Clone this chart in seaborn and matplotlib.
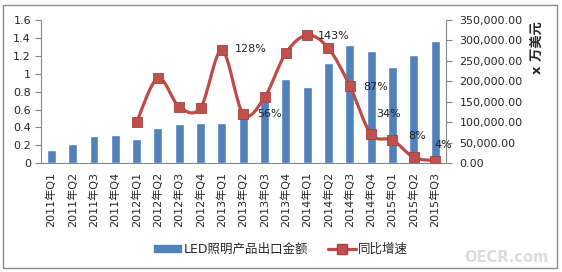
import numpy as np
import seaborn as sns
import matplotlib.pyplot as plt
from matplotlib.path import Path
from matplotlib.patches import PathPatch, Rectangle
from matplotlib.lines import Line2D
from matplotlib.ticker import FuncFormatter, FixedLocator

quarters = ["2011年Q1", "2011年Q2", "2011年Q3", "2011年Q4",
            "2012年Q1", "2012年Q2", "2012年Q3", "2012年Q4",
            "2013年Q1", "2013年Q2", "2013年Q3", "2013年Q4",
            "2014年Q1", "2014年Q2", "2014年Q3", "2014年Q4",
            "2015年Q1", "2015年Q2", "2015年Q3"]
# export value, 万美元 (right axis)
export_value = [32500, 47000, 66700, 70000, 60000, 87000, 97000, 99000,
                99000, 112000, 152000, 205000, 185600, 245700, 289000,
                274300, 235200, 264500, 298700]
# year-on-year growth (left axis), none for 2011
growth = [np.nan, np.nan, np.nan, np.nan, 0.46, 0.95, 0.63, 0.62,
          1.26, 0.55, 0.735, 1.23, 1.43, 1.285, 0.865, 0.325,
          0.26, 0.067, 0.03]
label_quarters = ["2013年Q1", "2013年Q2", "2014年Q1", "2014年Q3",
                  "2014年Q4", "2015年Q2", "2015年Q3"]
label_texts = ["128%", "56%", "143%", "87%", "34%", "8%", "4%"]

bar_color = "#4F81BD"
line_color = "#BE4B48"
axis_color = "#868686"

sns.set_style("white")
plt.rcParams["font.family"] = ["DejaVu Sans", "Noto Sans CJK SC"]


def smooth_path(xs, ys):
    # excel-like smoothed line: cubic bezier through the points
    p = np.column_stack([xs, ys])
    n = len(p)
    verts = [p[0]]
    codes = [Path.MOVETO]
    for i in range(n - 1):
        prev_p = p[i - 1] if i > 0 else p[i]
        next_p = p[i + 2] if i + 2 < n else p[i + 1]
        c1 = p[i] + (p[i + 1] - prev_p) / 6
        c2 = p[i + 1] - (next_p - p[i]) / 6
        verts += [c1, c2, p[i + 1]]
        codes += [Path.CURVE4] * 3
    return Path(verts, codes)


def led_chart():
    fig = plt.figure(figsize=(5.62, 2.72), dpi=100)
    ax = fig.add_axes([40.7 / 562, 1 - 163.3 / 272, 405 / 562, 143.3 / 272])
    ax2 = ax.twinx()

    sns.barplot(x=quarters, y=export_value, ax=ax2, color=bar_color,
                width=0.42, saturation=1)

    xs = np.arange(len(quarters))
    g = np.array(growth)
    ok = ~np.isnan(g)
    ax.add_patch(PathPatch(smooth_path(xs[ok], g[ok]), fill=False,
                           edgecolor=line_color, lw=2.3, zorder=3,
                           capstyle="round", joinstyle="round"))
    sns.scatterplot(x=xs[ok], y=g[ok], ax=ax, marker="s", s=50,
                    color="#C0504D", edgecolor="#A8403D", linewidth=0.6,
                    zorder=4)

    offsets = [(13, 1), (14, 0), (11, -1), (13, -1), (5, 20), (-5, 21), (-1, 16)]
    for q, t, off in zip(label_quarters, label_texts, offsets):
        i = quarters.index(q)
        ax.annotate(t, (i, growth[i]), xytext=off, textcoords="offset pixels",
                    ha="left", va="center", fontsize=8, color="#222222",
                    zorder=5)

    ax.set_zorder(ax2.get_zorder() + 1)
    ax.patch.set_visible(False)

    ax.set_xlim(-0.5, len(quarters) - 0.5)
    ax.set_ylim(0, 1.6)
    ax2.set_ylim(0, 350000)
    ax.set_yticks(np.arange(0, 1.61, 0.2))
    ax.yaxis.set_major_formatter(FuncFormatter(lambda v, _: f"{round(v, 1):g}"))
    ax2.set_yticks(np.arange(0, 350001, 50000))
    ax2.yaxis.set_major_formatter(FuncFormatter(lambda v, _: f"{v:,.2f}"))

    ax.set_xticks(xs)
    ax.set_xticklabels(quarters, rotation=90, fontsize=8)
    ax.xaxis.set_minor_locator(FixedLocator(np.arange(-0.5, len(quarters), 1)))
    ax.tick_params(axis="x", which="major", length=0, pad=6)
    ax.tick_params(axis="x", which="minor", length=4, color=axis_color,
                   direction="out")
    ax.tick_params(axis="y", length=4, color=axis_color, direction="out",
                   labelsize=8, pad=3, left=True)
    ax2.tick_params(axis="y", length=4, color=axis_color, direction="out",
                    labelsize=8, pad=6, right=True)
    ax.set_xlabel("")
    ax.set_ylabel("")
    ax2.set_xlabel("")
    ax2.set_ylabel("")

    for s in ["top", "right"]:
        ax.spines[s].set_visible(False)
    for s in ["top", "left", "bottom"]:
        ax2.spines[s].set_visible(False)
    for s in ["left", "bottom"]:
        ax.spines[s].set_color(axis_color)
    ax2.spines["right"].set_color(axis_color)

    fig.text(537 / 562, 1 - 48 / 272, "x 万美元", rotation=90, ha="center",
             va="center", fontsize=9.5, fontweight="bold")

    handles = [Rectangle((0, 0), 1, 1, color=bar_color),
               Line2D([], [], color=line_color, lw=2.3, marker="s",
                      markersize=7, markerfacecolor="#C0504D",
                      markeredgecolor="#A8403D")]
    fig.legend(handles, ["LED照明产品出口金额", "同比增速"], loc="center",
               bbox_to_anchor=(0.5, 1 - 249 / 272), ncol=2, frameon=False,
               fontsize=9, handlelength=2.2, handleheight=0.5,
               handletextpad=0.2, columnspacing=1.6)

    fig.text(506 / 562, 1 - 257 / 272, "OECR.com", ha="center", va="center",
             fontsize=10.5, fontweight="bold", color="#DCDCDC")

    fig.patches.append(Rectangle((3 / 562, 4 / 272), 554 / 562, 263 / 272,
                                 transform=fig.transFigure, fill=False,
                                 edgecolor="#8C8C8C", lw=1))

    fig.savefig("out.png", dpi=100)


def main():
    led_chart()


if __name__ == "__main__":
    main()
